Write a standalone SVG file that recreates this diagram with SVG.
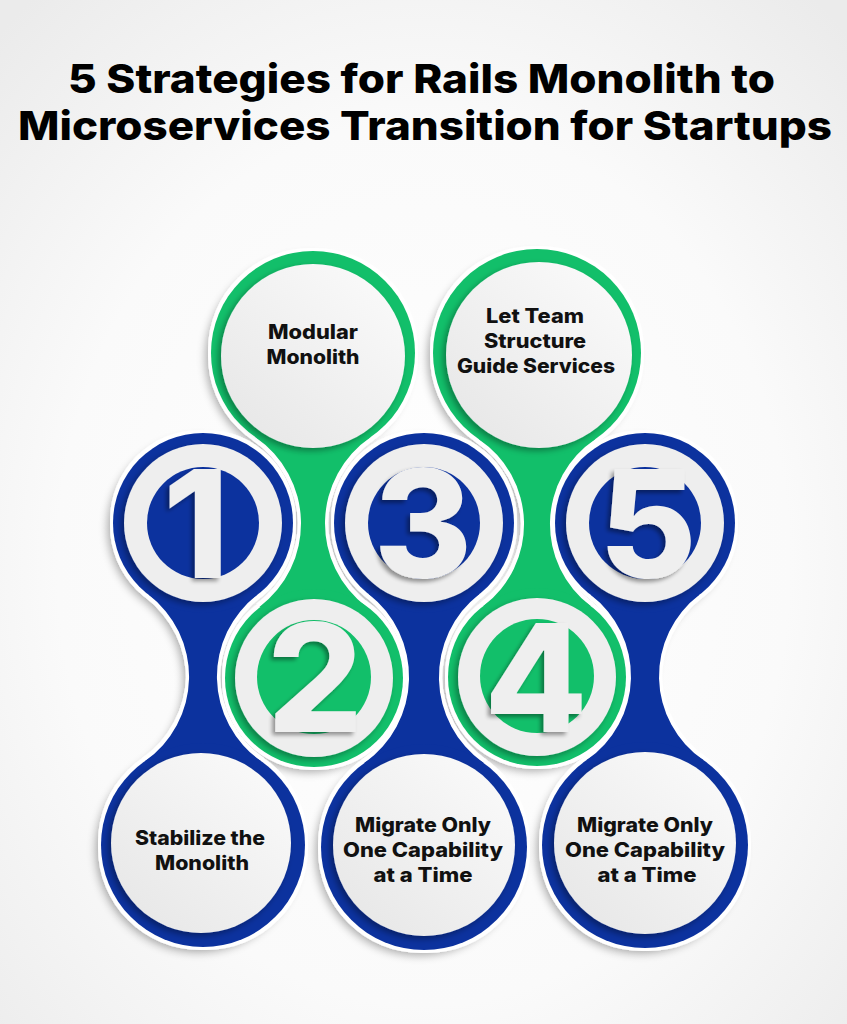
<svg xmlns="http://www.w3.org/2000/svg" width="847" height="1024" viewBox="0 0 847 1024">
<defs>
<radialGradient id="bg" cx="50%" cy="55%" r="72%">
<stop offset="0" stop-color="#ffffff"/>
<stop offset="0.6" stop-color="#fafafa"/>
<stop offset="1" stop-color="#ebebeb"/>
</radialGradient>
<linearGradient id="paper" x1="0.85" y1="0.1" x2="0.15" y2="0.9">
<stop offset="0" stop-color="#f9f9f9"/>
<stop offset="1" stop-color="#e8e8e8"/>
</linearGradient>
<filter id="under" x="-30%" y="-30%" width="160%" height="160%">
<feGaussianBlur in="SourceAlpha" stdDeviation="5" result="bl"/>
<feOffset in="bl" dx="-5" dy="5" result="off"/>
<feComponentTransfer in="off" result="s"><feFuncA type="linear" slope="0.35"/></feComponentTransfer>
<feMorphology in="SourceAlpha" operator="dilate" radius="3" result="d"/>
<feFlood flood-color="#ffffff"/>
<feComposite in2="d" operator="in" result="w"/>
<feMerge><feMergeNode in="s"/><feMergeNode in="w"/></feMerge>
</filter>
<filter id="disk" x="-20%" y="-20%" width="140%" height="140%">
<feGaussianBlur in="SourceAlpha" stdDeviation="3"/>
<feOffset dx="-3" dy="3" result="o"/>
<feComponentTransfer in="o" result="s"><feFuncA type="linear" slope="0.35"/></feComponentTransfer>
<feMerge><feMergeNode in="s"/><feMergeNode in="SourceGraphic"/></feMerge>
</filter>
<filter id="dig" x="-20%" y="-20%" width="140%" height="140%">
<feGaussianBlur in="SourceAlpha" stdDeviation="2"/>
<feOffset dx="-3" dy="3" result="o"/>
<feComponentTransfer in="o" result="s"><feFuncA type="linear" slope="0.4"/></feComponentTransfer>
<feMerge><feMergeNode in="s"/><feMergeNode in="SourceGraphic"/></feMerge>
</filter>
<style>
.blue{fill:#0c329e}
.green{fill:#12bf6a}
.paper{fill:url(#paper)}
.ring{fill:#eeeeee}
.num{font-family:Inter,"Liberation Sans",sans-serif;font-weight:800;font-size:150px;fill:#efefef;text-anchor:middle}
.lbl{font-family:Inter,"Liberation Sans",sans-serif;font-weight:800;font-size:20px;fill:#111111;text-anchor:middle}
.title{font-family:Inter,"Liberation Sans",sans-serif;font-weight:800;font-size:40px;fill:#000000;text-anchor:middle}
</style>
</defs>
<rect width="847" height="1024" fill="url(#bg)"/>
<g id="title">
<text class="title" x="421.5" y="93" textLength="707" lengthAdjust="spacingAndGlyphs">5 Strategies for Rails Monolith to</text>
<text class="title" x="425" y="140" textLength="814" lengthAdjust="spacingAndGlyphs">Microservices Transition for Startups</text>
</g>
<g id="underlay" filter="url(#under)" fill="#000">
<circle cx="313" cy="353" r="102"/>
<circle cx="537" cy="353" r="104"/>
<circle cx="314" cy="678" r="89"/>
<circle cx="537" cy="677" r="89"/>
<circle cx="203" cy="523" r="90"/>
<circle cx="424" cy="523" r="90"/>
<circle cx="645" cy="523" r="90"/>
<circle cx="203" cy="845" r="102"/>
<circle cx="424" cy="847" r="103"/>
<circle cx="645" cy="845" r="103"/>
<path d="M148.4,594.6 A103,103 0 0 1 144.8,761.2 L261.2,761.2 A103,103 0 0 1 257.6,594.6 Z"/>
<path d="M368.6,593.9 A105.3,105.3 0 0 1 364.5,762.9 L483.5,762.9 A105.3,105.3 0 0 1 479.4,593.9 Z"/>
<path d="M590.6,594.7 A102,102 0 0 1 586.7,760.1 L703.3,760.1 A102,102 0 0 1 699.4,594.7 Z"/>
<path d="M255.5,437.2 A104.5,104.5 0 0 1 259.4,606.9 L366.6,606.9 A104.5,104.5 0 0 1 370.5,437.2 Z"/>
<path d="M478.8,439.2 A102.5,102.5 0 0 1 483.3,606 L590.7,606 A102.5,102.5 0 0 1 595.2,439.2 Z"/>
</g>
<g id="connectors">
<path class="blue" d="M148.4,594.6 A103,103 0 0 1 144.8,761.2 L261.2,761.2 A103,103 0 0 1 257.6,594.6 Z"/>
<path class="blue" d="M368.6,593.9 A105.3,105.3 0 0 1 364.5,762.9 L483.5,762.9 A105.3,105.3 0 0 1 479.4,593.9 Z"/>
<path class="blue" d="M590.6,594.7 A102,102 0 0 1 586.7,760.1 L703.3,760.1 A102,102 0 0 1 699.4,594.7 Z"/>
<path class="green" d="M255.5,437.2 A104.5,104.5 0 0 1 259.4,606.9 L366.6,606.9 A104.5,104.5 0 0 1 370.5,437.2 Z"/>
<path class="green" d="M478.8,439.2 A102.5,102.5 0 0 1 483.3,606 L590.7,606 A102.5,102.5 0 0 1 595.2,439.2 Z"/>
</g>
<g id="node-modular">
<circle class="green" cx="313" cy="353" r="102"/>
<circle class="paper" cx="313" cy="356" r="92" filter="url(#disk)"/>
<text class="lbl" x="313" y="339" textLength="90" lengthAdjust="spacingAndGlyphs">Modular</text>
<text class="lbl" x="313" y="364" textLength="93" lengthAdjust="spacingAndGlyphs">Monolith</text>
</g>
<g id="node-team">
<circle class="green" cx="537" cy="353" r="104"/>
<circle class="paper" cx="539" cy="355" r="93" filter="url(#disk)"/>
<text class="lbl" x="535" y="323" textLength="98" lengthAdjust="spacingAndGlyphs">Let Team</text>
<text class="lbl" x="535" y="348" textLength="102" lengthAdjust="spacingAndGlyphs">Structure</text>
<text class="lbl" x="536" y="373" textLength="158" lengthAdjust="spacingAndGlyphs">Guide Services</text>
</g>
<g id="node-1">
<circle class="blue" cx="203" cy="523" r="90"/>
<circle class="ring" cx="203" cy="523" r="79" filter="url(#disk)"/>
<circle class="blue" cx="203" cy="523" r="56"/>
<text class="num" x="196" y="578" filter="url(#dig)">1</text>
</g>
<g id="node-3">
<circle class="blue" cx="424" cy="523" r="90"/>
<circle class="ring" cx="424" cy="523" r="79" filter="url(#disk)"/>
<circle class="blue" cx="424" cy="523" r="56"/>
<text class="num" x="423" y="578" filter="url(#dig)">3</text>
</g>
<g id="node-5">
<circle class="blue" cx="645" cy="523" r="90"/>
<circle class="ring" cx="645" cy="523" r="79" filter="url(#disk)"/>
<circle class="blue" cx="645" cy="523" r="56"/>
<text class="num" x="648" y="578" filter="url(#dig)">5</text>
</g>
<g id="node-2">
<circle class="green" cx="314" cy="678" r="89"/>
<circle class="ring" cx="314" cy="678" r="79" filter="url(#disk)"/>
<circle class="green" cx="314" cy="677" r="57"/>
<text class="num" x="315" y="732" filter="url(#dig)">2</text>
</g>
<g id="node-4">
<circle class="green" cx="537" cy="677" r="89"/>
<circle class="ring" cx="537" cy="677" r="79" filter="url(#disk)"/>
<circle class="green" cx="537" cy="676" r="57"/>
<text class="num" x="536" y="732" filter="url(#dig)">4</text>
</g>
<g id="node-stabilize">
<circle class="blue" cx="203" cy="845" r="102"/>
<circle class="paper" cx="201" cy="843" r="90" filter="url(#disk)"/>
<text class="lbl" x="200" y="845" textLength="130" lengthAdjust="spacingAndGlyphs">Stabilize the</text>
<text class="lbl" x="202" y="870" textLength="94" lengthAdjust="spacingAndGlyphs">Monolith</text>
</g>
<g id="node-migrate-a">
<circle class="blue" cx="424" cy="847" r="103"/>
<circle class="paper" cx="424" cy="845" r="91" filter="url(#disk)"/>
<text class="lbl" x="423" y="832" textLength="136" lengthAdjust="spacingAndGlyphs">Migrate Only</text>
<text class="lbl" x="423" y="857" textLength="160" lengthAdjust="spacingAndGlyphs">One Capability</text>
<text class="lbl" x="423" y="882" textLength="99" lengthAdjust="spacingAndGlyphs">at a Time</text>
</g>
<g id="node-migrate-b">
<circle class="blue" cx="645" cy="845" r="103"/>
<circle class="paper" cx="645" cy="843" r="91" filter="url(#disk)"/>
<text class="lbl" x="645" y="832" textLength="136" lengthAdjust="spacingAndGlyphs">Migrate Only</text>
<text class="lbl" x="645" y="857" textLength="160" lengthAdjust="spacingAndGlyphs">One Capability</text>
<text class="lbl" x="647" y="882" textLength="99" lengthAdjust="spacingAndGlyphs">at a Time</text>
</g>
</svg>
